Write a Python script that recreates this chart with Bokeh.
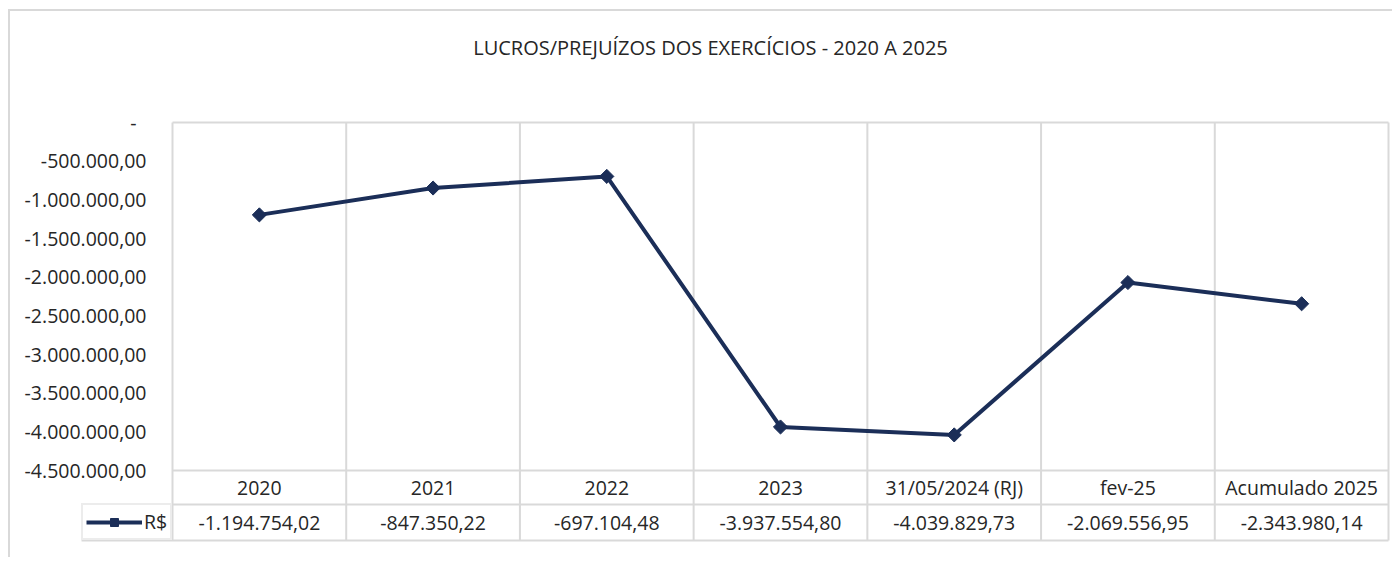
import numpy as np
from bokeh.plotting import figure
from bokeh.models import Range1d, ColumnDataSource, Legend, LegendItem
from bokeh.embed import file_html
from bokeh.resources import INLINE
from bokeh.core.properties import value

# ---------------- data ----------------
categories = ["2020", "2021", "2022", "2023", "31/05/2024 (RJ)", "fev-25", "Acumulado 2025"]
values = [-1194754.02, -847350.22, -697104.48, -3937554.80, -4039829.73, -2069556.95, -2343980.14]
y_ticks = [0, -500000, -1000000, -1500000, -2000000, -2500000, -3000000, -3500000, -4000000, -4500000]
series_name = "R$"
title_text = "LUCROS/PREJUÍZOS DOS EXERCÍCIOS - 2020 A 2025"


def fmt(v):
    if v == 0:
        return "-"
    s = f"{abs(v):,.2f}".replace(",", "X").replace(".", ",").replace("X", ".")
    return ("-" if v < 0 else "") + s


# ---------------- layout (pixel geometry) ----------------
W, H = 1384, 548
ORG_X, ORG_Y = 10, 11            # page position of canvas (margin + border)
FR_L, FR_R, FR_T, FR_B = 12, 1390, 12, 544    # frame edges, page px
PA_L, PA_R, PA_T, PA_B = 172, 1388, 122, 470  # plot area, page px
ROW1_B, ROW2_B = 504, 540
LEG_L = 81
LABEL_RIGHT = 146
ZERO_PAD = 10          # accounting format pads the "-" of zero
TITLE_X, TITLE_Y = 710, 47

LINE_C = "#1b2e58"
GRID_C = "#d9d9d9"
TEXT_C = "#262626"
FONT = "Open Sans"
FS = "19.5px"

n = len(categories)
cat_px = (PA_R - PA_L) / n
y_axis_min = min(y_ticks)
per_px = -y_axis_min / (PA_B - PA_T)


def xd(px):
    return (px - PA_L) / cat_px


def yd(py):
    return -(py - PA_T) * per_px


xc = [i + 0.5 for i in range(n)]

p = figure(width=W, height=H, output_backend="svg", toolbar_location=None,
           x_range=Range1d(xd(FR_L), xd(FR_R)), y_range=Range1d(yd(FR_B), yd(FR_T)),
           min_border_left=FR_L - ORG_X, min_border_right=W - (FR_R - ORG_X),
           min_border_top=FR_T - ORG_Y, min_border_bottom=H - (FR_B - ORG_Y))
p.styles = {"margin-left": "8px", "margin-top": "9px",
            "border-left": "2px solid #d9d9d9", "border-top": "2px solid #d9d9d9"}
p.background_fill_color = "white"
p.border_fill_color = "white"
p.outline_line_color = None
p.xaxis.visible = False
p.yaxis.visible = False
p.grid.visible = False

# title
p.text(x=[xd(TITLE_X)], y=[yd(TITLE_Y)], text=[title_text], text_align="center",
       text_baseline="middle", text_font=value(FONT), text_font_size=value("20px"),
       text_color=TEXT_C)

# plot area + table rules
bounds = list(range(n + 1))
p.segment(x0=bounds, y0=[yd(PA_T)] * len(bounds), x1=bounds, y1=[yd(ROW2_B)] * len(bounds),
          line_color=GRID_C, line_width=2)
h_y = [yd(PA_T), yd(PA_B), yd(ROW1_B), yd(ROW2_B)]
p.segment(x0=[0, 0, xd(LEG_L), xd(LEG_L)], y0=h_y, x1=[n] * 4, y1=h_y,
          line_color=GRID_C, line_width=2)

# y tick labels (value axis)
label_x = [xd(LABEL_RIGHT - (ZERO_PAD if t == 0 else 0)) for t in y_ticks]
p.text(x=label_x, y=y_ticks, text=[fmt(t) for t in y_ticks],
       text_align="right", text_baseline="middle",
       text_font=value(FONT), text_font_size=value(FS), text_color=TEXT_C)

# series
src = ColumnDataSource(dict(x=xc, y=values))
lr = p.line("x", "y", source=src, line_color=LINE_C, line_width=4)
sr = p.scatter("x", "y", source=src, marker="square", angle=np.pi / 4, size=10,
               fill_color=LINE_C, line_color=LINE_C)

# data table texts
row1_mid = yd((PA_B + ROW1_B) / 2)
row2_mid = yd((ROW1_B + ROW2_B) / 2)
p.text(x=xc, y=[row1_mid] * n, text=categories, text_align="center", text_baseline="middle",
       text_font=value(FONT), text_font_size=value(FS), text_color=TEXT_C)
p.text(x=xc, y=[row2_mid] * n, text=[fmt(v) for v in values], text_align="center",
       text_baseline="middle", text_font=value(FONT), text_font_size=value(FS), text_color=TEXT_C)

# legend key cell
legend = Legend(items=[LegendItem(label=series_name, renderers=[lr, sr])],
                location=(LEG_L - FR_L, FR_B - ROW2_B), orientation="vertical", margin=0,
                padding=3, spacing=0, glyph_width=56, glyph_height=20, label_standoff=2,
                border_line_color=GRID_C, border_line_width=2, background_fill_color="white",
                background_fill_alpha=1.0,
                label_text_font=FONT, label_text_font_size=FS, label_text_color=TEXT_C)
p.add_layout(legend)

open("out.html", "w").write(file_html(p, INLINE))
